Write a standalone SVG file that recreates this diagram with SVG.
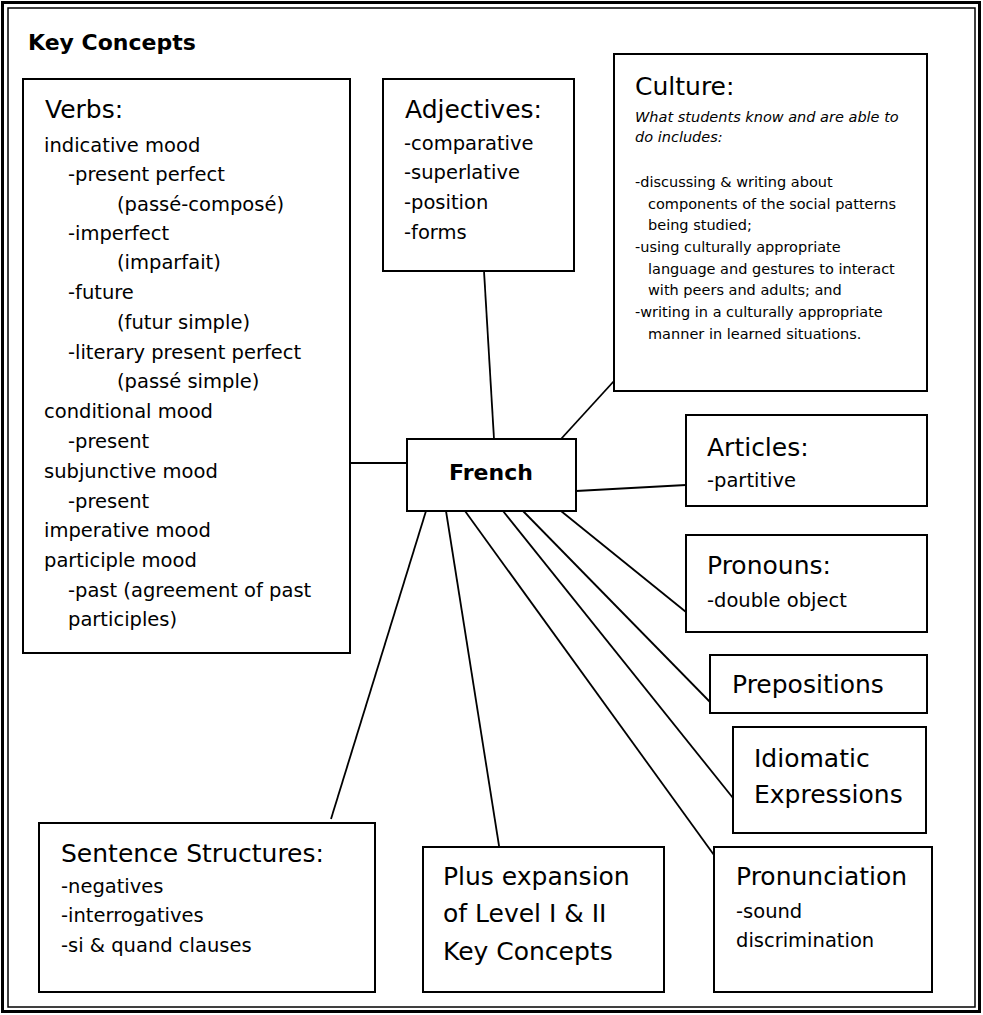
<svg xmlns="http://www.w3.org/2000/svg" width="983" height="1015" viewBox="0 0 983 1015">
<style>
text{font-family:"Comic Sans MS","DejaVu Sans",sans-serif;fill:#000}
.box{fill:#fff;stroke:#000;stroke-width:2}
.h{font-size:25px}
.b{font-size:19.5px}
.s{font-size:14.5px}
.i{font-size:14.5px;font-style:italic}
.bold{font-weight:bold}
#connectors line{stroke:#000;stroke-width:1.8}
</style>
<rect x="0" y="0" width="983" height="1015" fill="#fff"/>
<rect x="2.5" y="2.5" width="977" height="1009" fill="none" stroke="#000" stroke-width="3"/>
<rect x="8" y="8" width="967" height="999" fill="none" stroke="#000" stroke-width="1.5"/>
<text x="28" y="50" class="bold" font-size="22">Key Concepts</text>
<g id="connectors">
<line x1="350" y1="463" x2="407" y2="463"/>
<line x1="484" y1="271" x2="494" y2="439"/>
<line x1="614" y1="381" x2="561" y2="439"/>
<line x1="576" y1="491" x2="686" y2="485"/>
<line x1="426" y1="511" x2="331" y2="819"/>
<line x1="446" y1="511" x2="500" y2="852"/>
<line x1="465" y1="511" x2="714" y2="855"/>
<line x1="503" y1="511" x2="733" y2="798"/>
<line x1="523" y1="511" x2="710" y2="702"/>
<line x1="561" y1="511" x2="686" y2="612"/>
</g>
<g id="verbs">
<rect class="box" x="23" y="79" width="327" height="574"/>
<text x="45" y="118" class="h">Verbs:</text>
<text class="b">
<tspan x="44" y="152">indicative mood</tspan>
<tspan x="68" y="181">-present perfect</tspan>
<tspan x="117" y="211">(passé-composé)</tspan>
<tspan x="68" y="240">-imperfect</tspan>
<tspan x="117" y="269">(imparfait)</tspan>
<tspan x="68" y="299">-future</tspan>
<tspan x="117" y="329">(futur simple)</tspan>
<tspan x="68" y="359">-literary present perfect</tspan>
<tspan x="117" y="388">(passé simple)</tspan>
<tspan x="44" y="418">conditional mood</tspan>
<tspan x="68" y="448">-present</tspan>
<tspan x="44" y="478">subjunctive mood</tspan>
<tspan x="68" y="508">-present</tspan>
<tspan x="44" y="537">imperative mood</tspan>
<tspan x="44" y="567">participle mood</tspan>
<tspan x="68" y="597">-past (agreement of past</tspan>
<tspan x="68" y="626">participles)</tspan>
</text>
</g>
<g id="adjectives">
<rect class="box" x="383" y="79" width="191" height="192"/>
<text x="405" y="118" class="h">Adjectives:</text>
<text class="b">
<tspan x="404" y="150">-comparative</tspan>
<tspan x="404" y="179">-superlative</tspan>
<tspan x="404" y="209">-position</tspan>
<tspan x="404" y="239">-forms</tspan>
</text>
</g>
<g id="culture">
<rect class="box" x="614" y="54" width="313" height="337"/>
<text x="635" y="95" class="h">Culture:</text>
<text class="i">
<tspan x="635" y="122">What students know and are able to</tspan>
<tspan x="635" y="142">do includes:</tspan>
</text>
<text class="s">
<tspan x="635" y="187">-discussing &amp; writing about</tspan>
<tspan x="648" y="208.5">components of the social patterns</tspan>
<tspan x="648" y="230">being studied;</tspan>
<tspan x="635" y="252">-using culturally appropriate</tspan>
<tspan x="648" y="273.5">language and gestures to interact</tspan>
<tspan x="648" y="295">with peers and adults; and</tspan>
<tspan x="635" y="317">-writing in a culturally appropriate</tspan>
<tspan x="648" y="338.5">manner in learned situations.</tspan>
</text>
</g>
<g id="french">
<rect class="box" x="407" y="439" width="169" height="72"/>
<text x="491" y="480" class="bold" font-size="22" text-anchor="middle">French</text>
</g>
<g id="articles">
<rect class="box" x="686" y="415" width="241" height="91"/>
<text x="707" y="456" class="h">Articles:</text>
<text x="707" y="487" class="b">-partitive</text>
</g>
<g id="pronouns">
<rect class="box" x="686" y="535" width="241" height="97"/>
<text x="707" y="574" class="h">Pronouns:</text>
<text x="707" y="607" class="b">-double object</text>
</g>
<g id="prepositions">
<rect class="box" x="710" y="655" width="217" height="58"/>
<text x="732" y="693" class="h">Prepositions</text>
</g>
<g id="idiomatic">
<rect class="box" x="733" y="727" width="193" height="106"/>
<text class="h">
<tspan x="754" y="767">Idiomatic</tspan>
<tspan x="754" y="803">Expressions</tspan>
</text>
</g>
<g id="sentence">
<rect class="box" x="39" y="823" width="336" height="169"/>
<text x="61" y="862" class="h">Sentence Structures:</text>
<text class="b">
<tspan x="61" y="893">-negatives</tspan>
<tspan x="61" y="922">-interrogatives</tspan>
<tspan x="61" y="952">-si &amp; quand clauses</tspan>
</text>
</g>
<g id="plus">
<rect class="box" x="423" y="847" width="241" height="145"/>
<text class="h">
<tspan x="443" y="885">Plus expansion</tspan>
<tspan x="443" y="922">of Level I &amp; II</tspan>
<tspan x="443" y="960">Key Concepts</tspan>
</text>
</g>
<g id="pronunciation">
<rect class="box" x="714" y="847" width="218" height="145"/>
<text x="736" y="885" class="h">Pronunciation</text>
<text class="b">
<tspan x="736" y="918">-sound</tspan>
<tspan x="736" y="947">discrimination</tspan>
</text>
</g>
</svg>
